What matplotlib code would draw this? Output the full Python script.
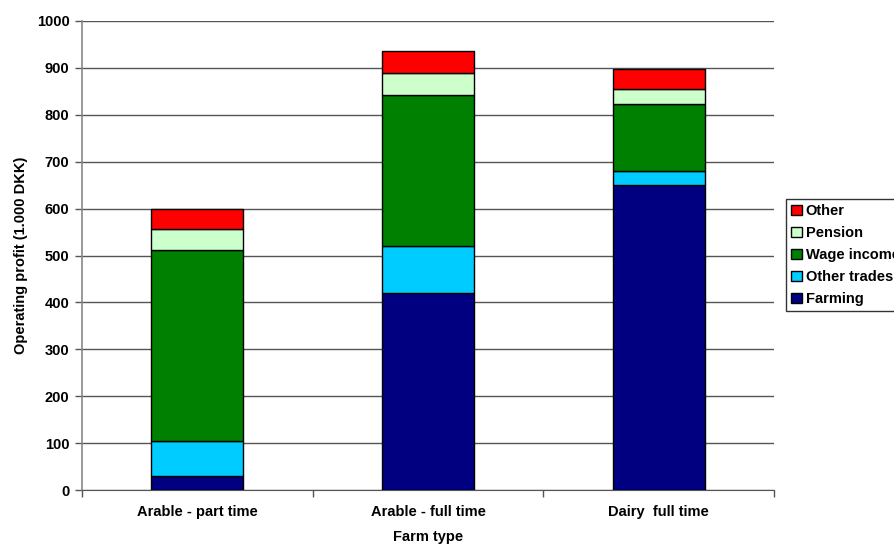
import matplotlib

matplotlib.use("Agg")
import matplotlib.pyplot as plt
import numpy as np

categories = ["Arable - part time", "Arable - full time", "Dairy  full time"]
series_names = ["Farming", "Other trades", "Wage income", "Pension", "Other"]
farming = [30, 420, 650]
other_trades = [75, 100, 30]
wage_income = [407, 322, 142]
pension = [45, 48, 32]
other = [42, 45, 44]
colors = ["#000080", "#00CCFF", "#008000", "#CCFFCC", "#FF0000"]
y_ticks = list(range(0, 1001, 100))

plt.rcParams["font.family"] = ["Liberation Sans", "DejaVu Sans"]
plt.rcParams["font.weight"] = "bold"
FS = 10.5

fig = plt.figure(figsize=(8.95, 5.45), dpi=100)
ax = fig.add_axes([82 / 895, 1 - 490 / 545, 692 / 895, 469 / 545])

x = np.arange(len(categories))
bottom = np.zeros(len(categories))
handles = []
for name, values, color in zip(series_names, [farming, other_trades, wage_income, pension, other], colors):
    bars = ax.bar(x, values, width=0.4, bottom=bottom, color=color, edgecolor="black",
                  linewidth=1.0, label=name, zorder=3)
    handles.append(bars)
    bottom += np.array(values)

ax.set_xlim(-0.5, len(categories) - 0.5)
ax.set_ylim(0, 1000)
ax.set_yticks(y_ticks)
ax.set_yticklabels([str(v) for v in y_ticks], fontsize=FS, fontweight="bold")
ax.yaxis.grid(True, color="#555555", linewidth=1.0, zorder=0)
ax.set_axisbelow(True)

ax.set_xticks(x)
ax.set_xticklabels(categories, fontsize=FS, fontweight="bold")
ax.tick_params(axis="x", length=0, pad=11)
ax.set_xticks(np.arange(len(categories) + 1) - 0.5, minor=True)
ax.tick_params(axis="x", which="minor", length=5, color="#555555", width=1.0)
ax.tick_params(axis="y", length=5, color="#555555", width=1.0, pad=4)

for side in ["top", "right"]:
    ax.spines[side].set_visible(False)
ax.spines["left"].set_color("#888888")
ax.spines["bottom"].set_color("#555555")
ax.spines["left"].set_linewidth(1.2)

ax.set_xlabel("Farm type", fontsize=FS, fontweight="bold", labelpad=8)
ax.set_ylabel("Operating profit (1.000 DKK)", fontsize=FS, fontweight="bold", labelpad=6)

leg = ax.legend(handles[::-1], series_names[::-1], loc="upper left",
                bbox_to_anchor=(786 / 895, 1 - 199 / 545), bbox_transform=fig.transFigure,
                frameon=True, fancybox=False, edgecolor="black", fontsize=FS,
                handlelength=0.75, handleheight=0.75, handletextpad=0.25, borderpad=0.35,
                labelspacing=0.55, borderaxespad=0)
leg.get_frame().set_linewidth(1.0)
for t in leg.get_texts():
    t.set_fontweight("bold")

fig.savefig("out.png", dpi=100)
